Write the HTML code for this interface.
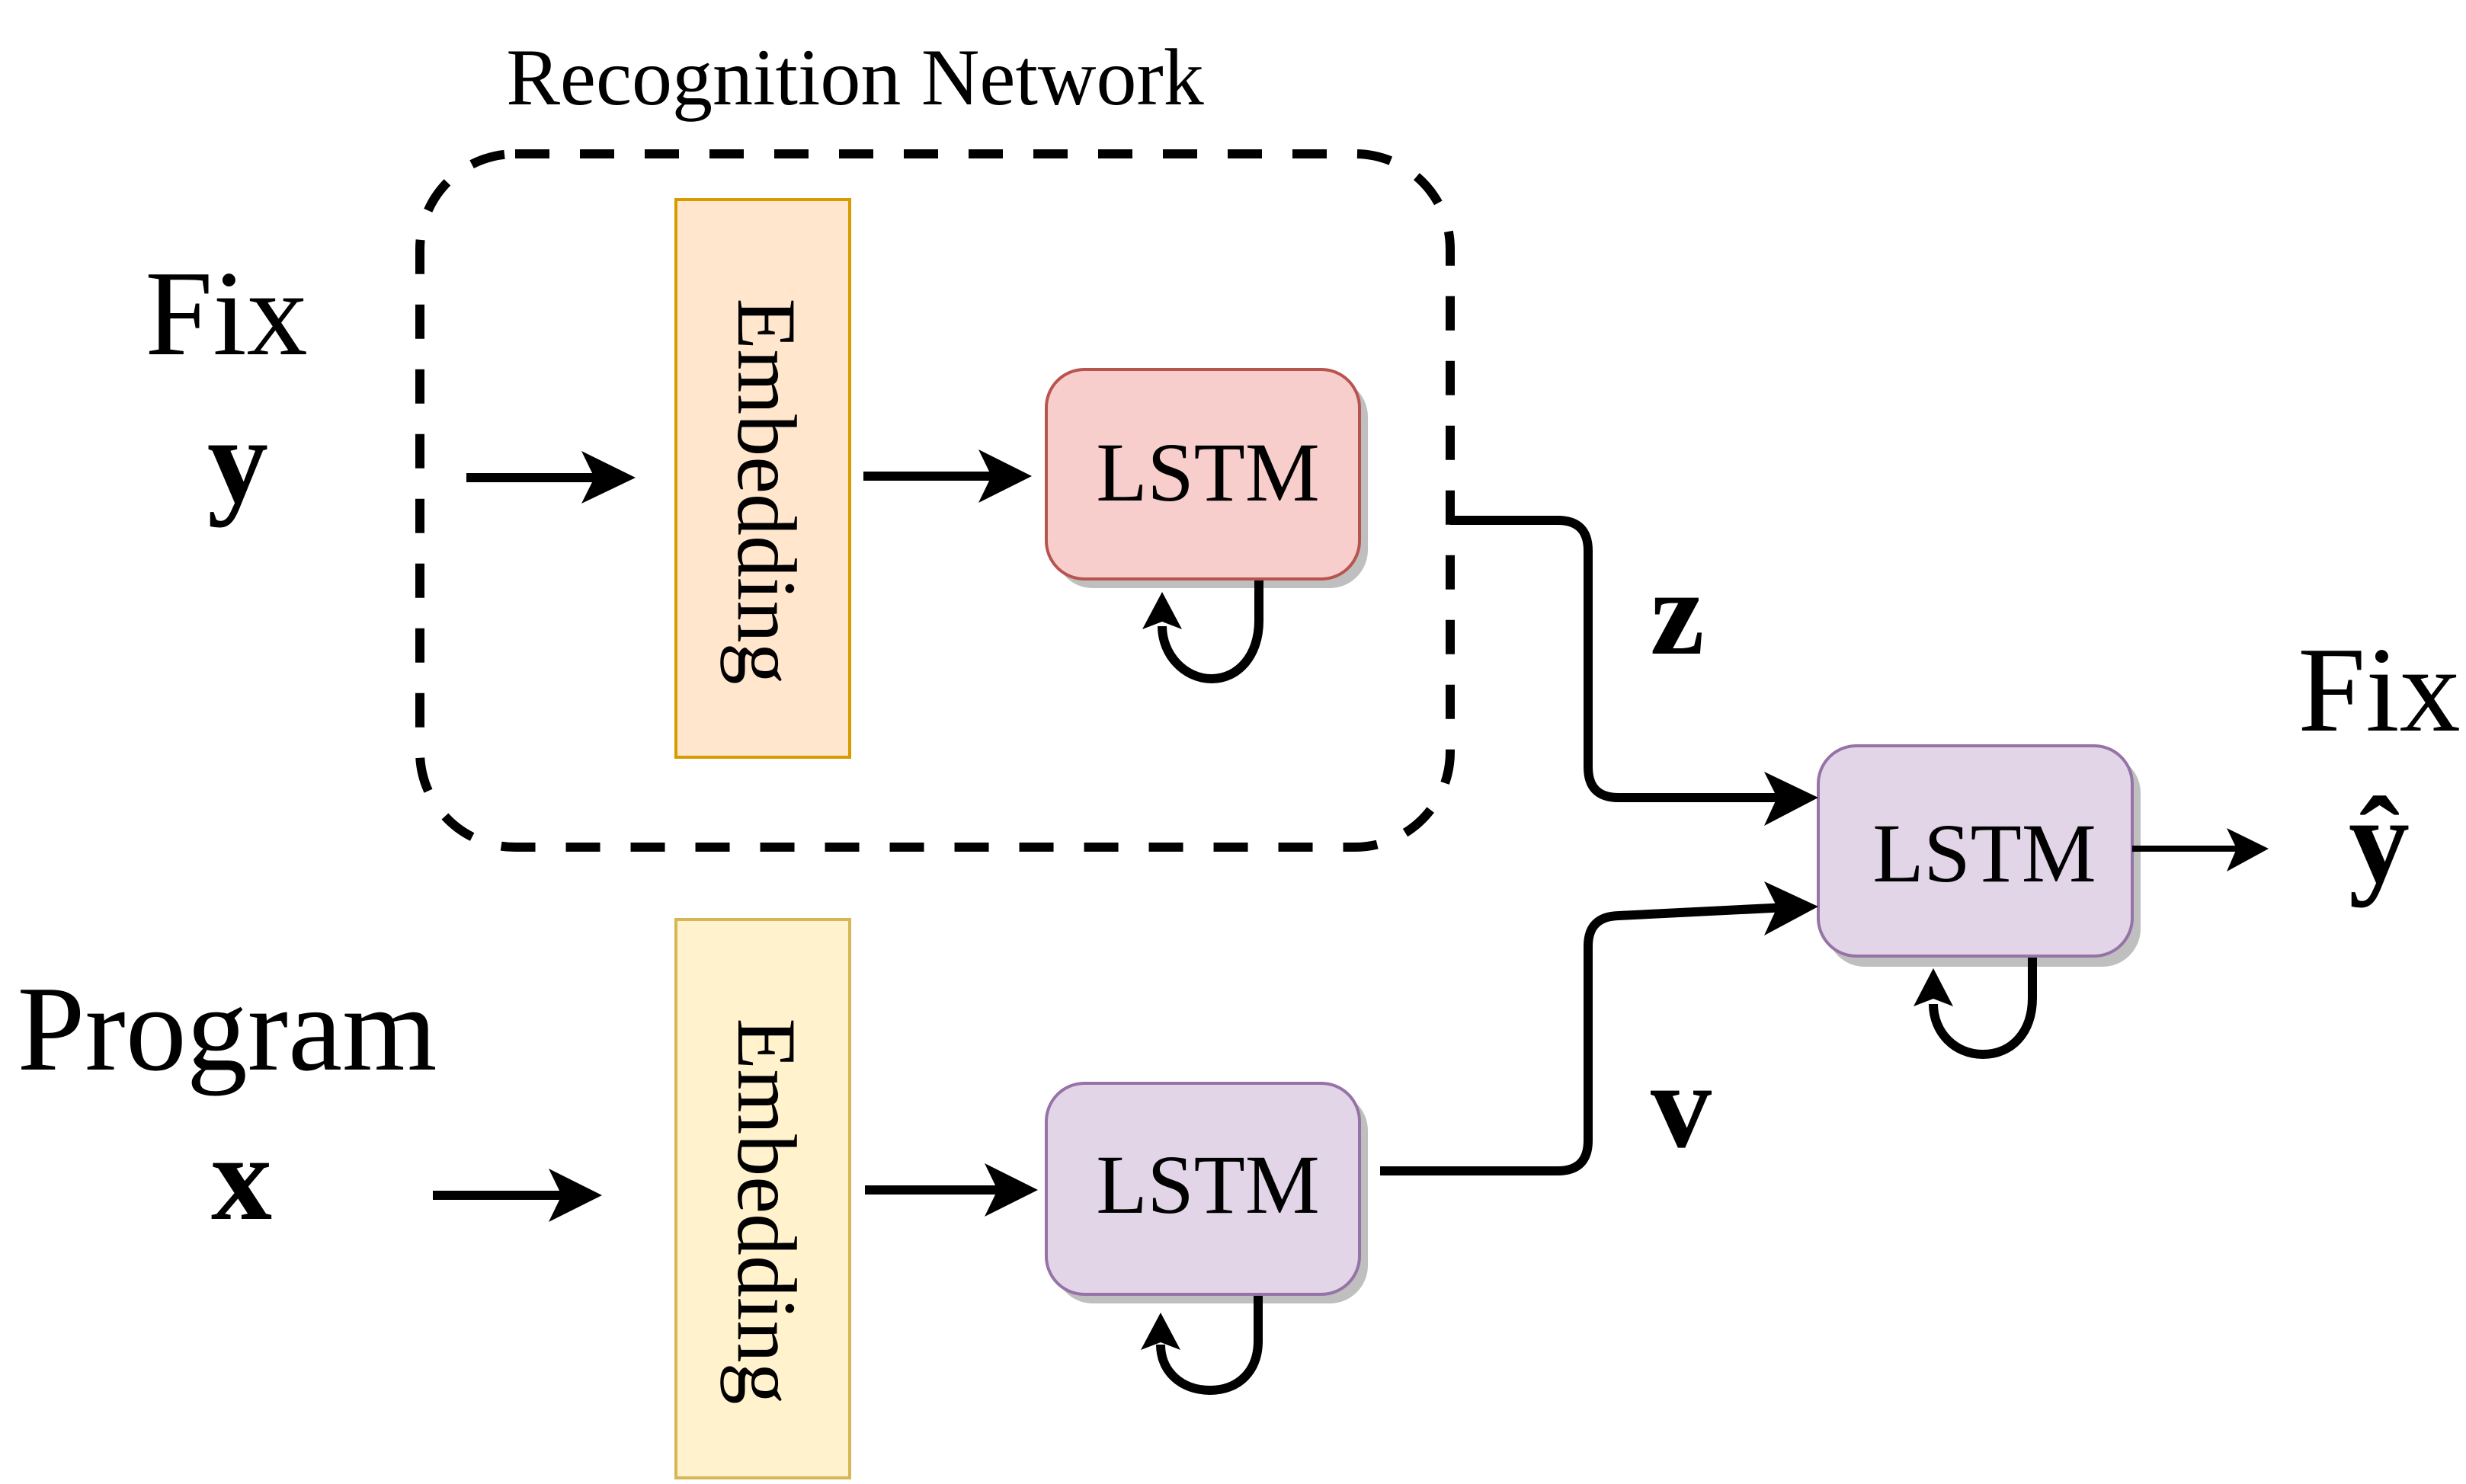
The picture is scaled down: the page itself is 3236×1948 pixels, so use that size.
<!DOCTYPE html>
<html><head><meta charset="utf-8"><style>
html,body{margin:0;padding:0;background:#fff;}
svg{display:block;}
text{font-family:"Liberation Serif",serif;fill:#000;}
</style></head><body>
<svg width="3236" height="1948" viewBox="0 0 3236 1948" xmlns="http://www.w3.org/2000/svg">
<!-- Recognition network label -->
<text x="1122" y="137" font-size="106" text-anchor="middle">Recognition Network</text>
<!-- dashed box -->
<rect x="551" y="202" width="1352" height="910" rx="125" ry="125" fill="none" stroke="#000" stroke-width="12" stroke-dasharray="45 40"/>

<!-- left labels -->
<text x="297" y="465" font-size="160" text-anchor="middle">Fix</text>
<text x="312" y="658" font-size="160" font-weight="bold" text-anchor="middle">y</text>
<text x="298" y="1404" font-size="160" text-anchor="middle">Program</text>
<text x="317" y="1600" font-size="160" font-weight="bold" text-anchor="middle">x</text>

<!-- embeddings -->
<rect x="887" y="262" width="228" height="732" fill="#ffe6cc" stroke="#d79b00" stroke-width="4"/>
<text transform="translate(1001,645) rotate(90)" x="0" y="32" font-size="110" text-anchor="middle">Embedding</text>
<rect x="887" y="1207" width="228" height="733" fill="#fff2cc" stroke="#d6b656" stroke-width="4"/>
<text transform="translate(1001,1590) rotate(90)" x="0" y="32" font-size="110" text-anchor="middle">Embedding</text>

<!-- LSTM boxes with shadows -->
<rect x="1384" y="497" width="411" height="275" rx="50" fill="#bfbfbf"/>
<rect x="1373" y="485" width="411" height="275" rx="50" fill="#f8cecc" stroke="#b85450" stroke-width="4"/>
<text x="1585" y="657" font-size="110" text-anchor="middle">LSTM</text>

<rect x="1384" y="1434" width="411" height="277" rx="50" fill="#bfbfbf"/>
<rect x="1373" y="1422" width="411" height="277" rx="50" fill="#e1d5e7" stroke="#9673a6" stroke-width="4"/>
<text x="1585" y="1592" font-size="110" text-anchor="middle">LSTM</text>

<rect x="2397" y="991" width="412" height="278" rx="50" fill="#bfbfbf"/>
<rect x="2386" y="979" width="412" height="276" rx="50" fill="#e1d5e7" stroke="#9673a6" stroke-width="4"/>
<text x="2604" y="1157" font-size="110" text-anchor="middle">LSTM</text>

<!-- straight arrows -->
<g stroke="#000" stroke-width="12" fill="none">
<line x1="612" y1="627" x2="790" y2="627"/>
<line x1="1133" y1="625" x2="1310" y2="625"/>
<line x1="568" y1="1569" x2="745" y2="1569"/>
<line x1="1135" y1="1562" x2="1318" y2="1562"/>
<path d="M1903 683 L2044 683 Q2084 683 2084 723 L2084 1007 Q2084 1047 2124 1047 L2340 1047"/>
<path d="M1811 1537 L2044 1537 Q2084 1537 2084 1497 L2084 1242 Q2084 1203 2124 1202 L2345 1191"/>
<path d="M1652 762 L1652 815 C1652 860 1625 891 1590 891 C1555 891 1525 860 1525 822"/>
<path d="M1651 1701 L1651 1760 C1651 1800 1625 1825 1588 1825 C1550 1825 1523 1800 1523 1765"/>
<path d="M2667 1257 L2667 1310 C2667 1355 2640 1384 2602 1384 C2565 1384 2537 1355 2537 1318"/>
</g>
<line x1="2798" y1="1114" x2="2935" y2="1114" stroke="#000" stroke-width="8"/>

<!-- arrowheads -->
<g fill="#000">
<polygon points="834,627 763,592 780,627 763,661"/>
<polygon points="1354,625 1284,590 1301,625 1284,660"/>
<polygon points="790,1569 720,1534 737,1569 720,1604"/>
<polygon points="1362,1562 1292,1527 1309,1562 1292,1597"/>
<polygon points="2386,1047 2315,1013 2332,1047 2315,1084"/>
<polygon points="2386,1190 2315,1157 2332,1191 2315,1228"/>
<polygon points="2977,1114 2922,1087 2935,1114 2922,1144"/>
<polygon points="1525,777 1499,826 1525,816 1551,826"/>
<polygon points="1523,1723 1497,1772 1523,1762 1549,1772"/>
<polygon points="2537,1271 2511,1321 2537,1311 2563,1321"/>
</g>

<!-- connector labels -->
<text x="2201" y="858" font-size="160" font-weight="bold" text-anchor="middle">z</text>
<text x="2206" y="1505" font-size="160" font-weight="bold" text-anchor="middle">v</text>
<text x="3122" y="959" font-size="160" text-anchor="middle">Fix</text>
<text x="3122" y="1157" font-size="160" font-weight="bold" text-anchor="middle">ŷ</text>
</svg>
</body></html>
